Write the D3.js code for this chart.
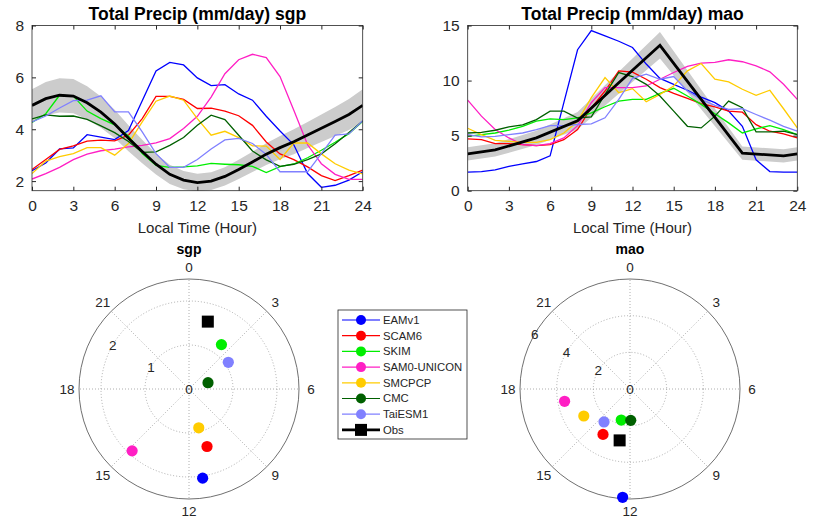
<!DOCTYPE html>
<html>
<head>
<meta charset="utf-8">
<script src="https://cdn.jsdelivr.net/npm/d3@7"></script>
<style>
  body { margin: 0; background: #fff; }
  svg text { font-family: "Liberation Sans", Arial, sans-serif; fill: #262626; }
  .tick line { stroke: #262626; }
</style>
</head>
<body>
<script>

// hours of the day
var hours = [0,1,2,3,4,5,6,7,8,9,10,11,12,13,14,15,16,17,18,19,20,21,22,23,24];

// model names and colours
var models = ["EAMv1","SCAM6","SKIM","SAM0-UNICON","SMCPCP","CMC","TaiESM1"];
var modelColors = ["#0000ff","#ff0000","#00ee00","#ff1fc4","#ffcc00","#006000","#8080ff"];

// sgp diurnal cycle (mm/day)
var sgpEAMv1  = [2.40,2.70,3.24,3.28,3.79,3.70,3.60,3.95,5.10,6.25,6.58,6.48,5.98,5.68,5.72,5.36,5.12,4.50,3.93,3.40,2.29,1.76,1.84,2.04,2.36];
var sgpSCAM6  = [2.45,2.83,3.22,3.36,3.54,3.58,3.55,3.77,4.41,5.27,5.27,5.15,4.80,4.81,4.70,4.52,4.15,3.51,3.05,2.83,2.55,2.21,2.02,2.21,2.42];
var sgpSKIM   = [4.26,4.60,5.31,5.28,4.70,4.41,4.17,3.74,3.06,2.61,2.53,2.55,2.59,2.68,2.65,2.63,2.57,2.33,2.56,2.66,2.90,3.19,3.50,3.83,4.30];
var sgpSAM0   = [2.08,2.29,2.53,2.83,3.04,3.17,3.23,3.32,3.38,3.47,3.64,4.03,4.50,5.24,6.14,6.68,6.89,6.76,6.03,4.73,3.40,2.67,2.26,2.07,2.07];
var sgpSMCPCP = [2.29,2.77,2.94,3.06,3.29,3.29,3.00,3.45,4.28,5.08,5.28,5.12,4.41,3.77,3.92,3.68,3.36,3.35,2.83,3.47,3.47,3.05,2.67,2.42,2.28];
var sgpCMC    = [4.40,4.55,4.50,4.51,4.38,4.13,3.87,3.53,3.11,3.13,3.38,3.68,4.15,4.54,4.37,3.77,3.16,2.82,2.57,2.65,2.83,3.05,3.44,3.87,4.32];
var sgpTaiESM = [4.28,4.51,4.82,5.10,5.12,5.29,4.67,4.67,3.90,3.06,2.53,2.53,2.83,3.24,3.59,3.65,3.45,3.03,2.36,2.36,2.36,3.06,3.77,3.82,4.33];
var sgpObs    = [4.92,5.18,5.31,5.28,5.02,4.66,4.20,3.65,3.14,2.65,2.26,2.04,1.94,2.00,2.18,2.45,2.74,3.04,3.29,3.52,3.78,4.04,4.30,4.57,4.92];
var sgpObsErr = [0.62,0.64,0.66,0.66,0.64,0.60,0.55,0.50,0.45,0.40,0.37,0.35,0.34,0.34,0.35,0.37,0.39,0.42,0.45,0.48,0.50,0.53,0.56,0.60,0.62];

// mao diurnal cycle (mm/day)
var maoEAMv1  = [1.68,1.74,1.89,2.20,2.44,2.65,3.17,8.00,12.80,14.54,14.05,13.57,13.00,11.50,10.20,9.66,9.12,8.50,7.99,7.23,5.85,2.80,1.74,1.68,1.68];
var maoSCAM6  = [4.70,4.63,4.27,4.27,4.18,4.09,4.18,4.63,5.55,7.53,9.05,10.88,10.76,10.12,9.36,8.84,8.38,7.90,7.62,7.23,7.13,6.00,5.40,5.15,4.79];
var maoSKIM   = [4.94,5.09,5.24,5.49,5.85,6.31,6.52,6.46,6.62,7.07,7.62,8.14,8.29,8.29,8.84,9.30,8.60,7.84,6.98,6.16,5.24,5.61,5.91,5.55,5.09];
var maoSAM0   = [8.23,6.77,5.55,4.79,4.18,4.09,4.27,4.79,5.91,7.99,9.36,9.36,9.36,9.51,10.12,10.73,11.28,11.59,11.65,11.89,11.71,11.34,10.79,9.66,8.29];
var maoSMCPCP = [5.67,5.09,4.57,4.48,4.39,4.39,4.63,5.24,6.31,8.45,10.27,8.90,9.27,8.08,8.75,9.51,10.88,11.55,10.12,9.88,9.21,8.66,9.12,7.44,5.70];
var maoCMC    = [5.24,5.30,5.49,5.79,5.98,6.46,7.23,7.23,6.60,6.70,8.75,10.73,10.35,9.66,8.60,7.23,5.85,5.70,6.77,8.14,7.53,5.34,5.34,5.40,5.09];
var maoTaiESM = [5.09,4.88,4.94,5.09,5.24,5.55,5.91,5.91,6.01,6.07,6.62,8.29,10.20,10.58,10.12,10.37,9.05,8.29,7.74,7.38,7.44,6.92,6.40,5.85,5.40];
var maoObsHours = [0,2,5,8,11,14,17,20,23,24];
var maoObs      = [3.35,3.70,4.80,6.35,9.80,13.20,8.30,3.41,3.17,3.35];
var maoObsErr   = [0.60,0.60,0.65,0.80,1.00,1.20,0.90,0.60,0.60,0.60];

// harmonic phase (hour) and amplitude (mm/day), order = models then Obs
var sgpPhase = [11.42,10.84,2.41,14.84,11.06,4.78,3.72,1.04];
var sgpAmp   = [2.05,1.37,1.25,1.91,0.91,0.455,1.08,1.59];
var maoPhase = [12.26,14.05,13.05,17.29,15.98,11.91,14.55,12.76];
var maoAmp   = [5.92,2.88,1.76,3.63,2.92,1.71,2.29,2.86];

var xTicks = [0,3,6,9,12,15,18,21,24];
var sgpYTicks = [2,4,6,8];
var maoYTicks = [0,5,10,15];
var thetaTicks = [0,3,6,9,12,15,18,21];

var svg = d3.select("body").append("svg")
    .attr("width", 819)
    .attr("height", 521);

//line panels
var drawPanel = function(left, right, top, bottom, yDomain, yTicks, title, series, obsX, obsY, obsErr){

  var x = d3.scaleLinear().domain([0,24]).range([left, right]);
  var y = d3.scaleLinear().domain(yDomain).range([bottom, top]);

  var g = svg.append("g");

  g.append("defs").append("clipPath")
      .attr("id", "clip" + Math.round(left))
    .append("rect")
      .attr("x", left).attr("y", top)
      .attr("width", right - left).attr("height", bottom - top);

  var plot = g.append("g").attr("clip-path", "url(#clip" + Math.round(left) + ")");

  var band = d3.area()
      .x(function(d, i) { return x(obsX[i]); })
      .y0(function(d, i) { return y(d - obsErr[i]); })
      .y1(function(d, i) { return y(d + obsErr[i]); });

  plot.append("path")
      .attr("d", band(obsY))
      .attr("fill", "#cccccc");

  var line = d3.line()
      .x(function(d, i) { return x(hours[i]); })
      .y(function(d) { return y(d); });

  series.forEach(function(s, k) {
    plot.append("path")
        .attr("d", line(s))
        .attr("fill", "none")
        .attr("stroke", modelColors[k])
        .attr("stroke-width", 1.3);
  });

  var obsLine = d3.line()
      .x(function(d, i) { return x(obsX[i]); })
      .y(function(d) { return y(d); });

  plot.append("path")
      .attr("d", obsLine(obsY))
      .attr("fill", "none")
      .attr("stroke", "#000")
      .attr("stroke-width", 2.8);

  // axes, ticks inside like matlab
  g.append("g")
      .attr("transform", "translate(0," + bottom + ")")
      .call(d3.axisBottom(x).tickValues(xTicks).tickSizeInner(-4).tickSizeOuter(0).tickPadding(9))
      .call(function(a) { a.select(".domain").remove(); })
      .selectAll("text").style("font-size", "15.5px");

  g.append("g")
      .attr("transform", "translate(0," + top + ")")
      .call(d3.axisTop(x).tickValues(xTicks).tickSizeInner(-4).tickSizeOuter(0).tickFormat(""))
      .call(function(a) { a.select(".domain").remove(); });

  g.append("g")
      .attr("transform", "translate(" + left + ",0)")
      .call(d3.axisLeft(y).tickValues(yTicks).tickFormat(d3.format("d")).tickSizeInner(-4).tickSizeOuter(0).tickPadding(8))
      .call(function(a) { a.select(".domain").remove(); })
      .selectAll("text").style("font-size", "15.5px");

  g.append("g")
      .attr("transform", "translate(" + right + ",0)")
      .call(d3.axisRight(y).tickValues(yTicks).tickSizeInner(-4).tickSizeOuter(0).tickFormat(""))
      .call(function(a) { a.select(".domain").remove(); });

  g.append("rect")
      .attr("x", left).attr("y", top)
      .attr("width", right - left).attr("height", bottom - top)
      .attr("fill", "none")
      .attr("stroke", "#262626")
      .attr("stroke-width", 0.8);

  g.append("text")
      .attr("x", (left + right) / 2)
      .attr("y", top - 6)
      .attr("text-anchor", "middle")
      .style("font-size", "17.5px")
      .style("font-weight", "bold")
      .style("fill", "#000")
      .text(title);

  g.append("text")
      .attr("x", (left + right) / 2)
      .attr("y", bottom + 42)
      .attr("text-anchor", "middle")
      .style("font-size", "15px")
      .text("Local Time (Hour)");
}

drawPanel(32, 362.7, 25.5, 190.7, [1.63, 8], sgpYTicks, "Total Precip (mm/day) sgp",
  [sgpEAMv1, sgpSCAM6, sgpSKIM, sgpSAM0, sgpSMCPCP, sgpCMC, sgpTaiESM], hours, sgpObs, sgpObsErr);

drawPanel(467.7, 797.3, 25.5, 190.7, [0, 15], maoYTicks, "Total Precip (mm/day) mao",
  [maoEAMv1, maoSCAM6, maoSKIM, maoSAM0, maoSMCPCP, maoCMC, maoTaiESM], maoObsHours, maoObs, maoObsErr);

//polar panels
var drawPolar = function(cx, cy, R, rMax, rTicks, title, phase, amp){

  var r = d3.scaleLinear().domain([0, rMax]).range([0, R]);
  var ang = d3.scaleLinear().domain([0, 24]).range([0, 2 * Math.PI]);
  var px = function(h, v) { return cx + r(v) * Math.sin(ang(h)); };
  var py = function(h, v) { return cy - r(v) * Math.cos(ang(h)); };

  var g = svg.append("g");

  g.selectAll(".spoke")
      .data(thetaTicks)
      .enter().append("line")
      .attr("x1", cx).attr("y1", cy)
      .attr("x2", function(d) { return px(d, rMax); })
      .attr("y2", function(d) { return py(d, rMax); })
      .attr("stroke", "#999")
      .attr("stroke-width", 0.8)
      .attr("stroke-dasharray", "1,2");

  g.selectAll(".ring")
      .data(rTicks.filter(function(d) { return d > 0 && d < rMax; }))
      .enter().append("circle")
      .attr("cx", cx).attr("cy", cy)
      .attr("r", function(d) { return r(d); })
      .attr("fill", "none")
      .attr("stroke", "#999")
      .attr("stroke-width", 0.8)
      .attr("stroke-dasharray", "1,2");

  g.append("circle")
      .attr("cx", cx).attr("cy", cy)
      .attr("r", R)
      .attr("fill", "none")
      .attr("stroke", "#707070")
      .attr("stroke-width", 1);

  g.selectAll(".rlab")
      .data(rTicks)
      .enter().append("text")
      .attr("x", function(d) { return px(20, d); })
      .attr("y", function(d) { return py(20, d); })
      .attr("dy", "0.35em")
      .attr("text-anchor", "middle")
      .style("font-size", "13.5px")
      .text(function(d) { return d; });

  g.selectAll(".tlab")
      .data(thetaTicks)
      .enter().append("text")
      .attr("x", function(d) { return cx + (R + 12) * Math.sin(ang(d)); })
      .attr("y", function(d) { return cy - (R + 12) * Math.cos(ang(d)); })
      .attr("dy", "0.35em")
      .attr("text-anchor", "middle")
      .style("font-size", "13.5px")
      .text(function(d) { return d; });

  g.append("text")
      .attr("x", cx)
      .attr("y", cy - R - 25)
      .attr("text-anchor", "middle")
      .style("font-size", "14px")
      .style("font-weight", "bold")
      .style("fill", "#000")
      .text(title);

  models.forEach(function(m, i) {
    g.append("circle")
        .attr("cx", px(phase[i], amp[i]))
        .attr("cy", py(phase[i], amp[i]))
        .attr("r", 5.6)
        .attr("fill", modelColors[i]);
  });

  var k = models.length;
  g.append("rect")
      .attr("x", px(phase[k], amp[k]) - 6)
      .attr("y", py(phase[k], amp[k]) - 6)
      .attr("width", 12).attr("height", 12)
      .attr("fill", "#000");
}

drawPolar(189, 389, 110, 2.5, [0,1,2], "sgp", sgpPhase, sgpAmp);
drawPolar(630, 389, 110, 6, [0,2,4,6], "mao", maoPhase, maoAmp);

//legend
var legend = svg.append("g").attr("transform", "translate(338,310)");

legend.append("rect")
    .attr("width", 129).attr("height", 129)
    .attr("fill", "#fff")
    .attr("stroke", "#262626")
    .attr("stroke-width", 0.8);

var legendNames = models.concat(["Obs"]);
var legendColors = modelColors.concat(["#000"]);

var item = legend.selectAll(".item")
    .data(legendNames)
    .enter().append("g")
    .attr("transform", function(d, i) { return "translate(0," + (10 + i * 15.7) + ")"; });

item.append("line")
    .attr("x1", 4).attr("x2", 42)
    .attr("stroke", function(d, i) { return legendColors[i]; })
    .attr("stroke-width", function(d, i) { return i == 7 ? 2.6 : 1.2; });

item.filter(function(d, i) { return i < 7; }).append("circle")
    .attr("cx", 23).attr("r", 5)
    .attr("fill", function(d, i) { return legendColors[i]; });

item.filter(function(d, i) { return i == 7; }).append("rect")
    .attr("x", 17).attr("y", -6).attr("width", 12).attr("height", 12)
    .attr("fill", "#000");

item.append("text")
    .attr("x", 45)
    .attr("dy", "0.35em")
    .style("font-size", "11.3px")
    .text(function(d) { return d; });

</script>
</body>
</html>
